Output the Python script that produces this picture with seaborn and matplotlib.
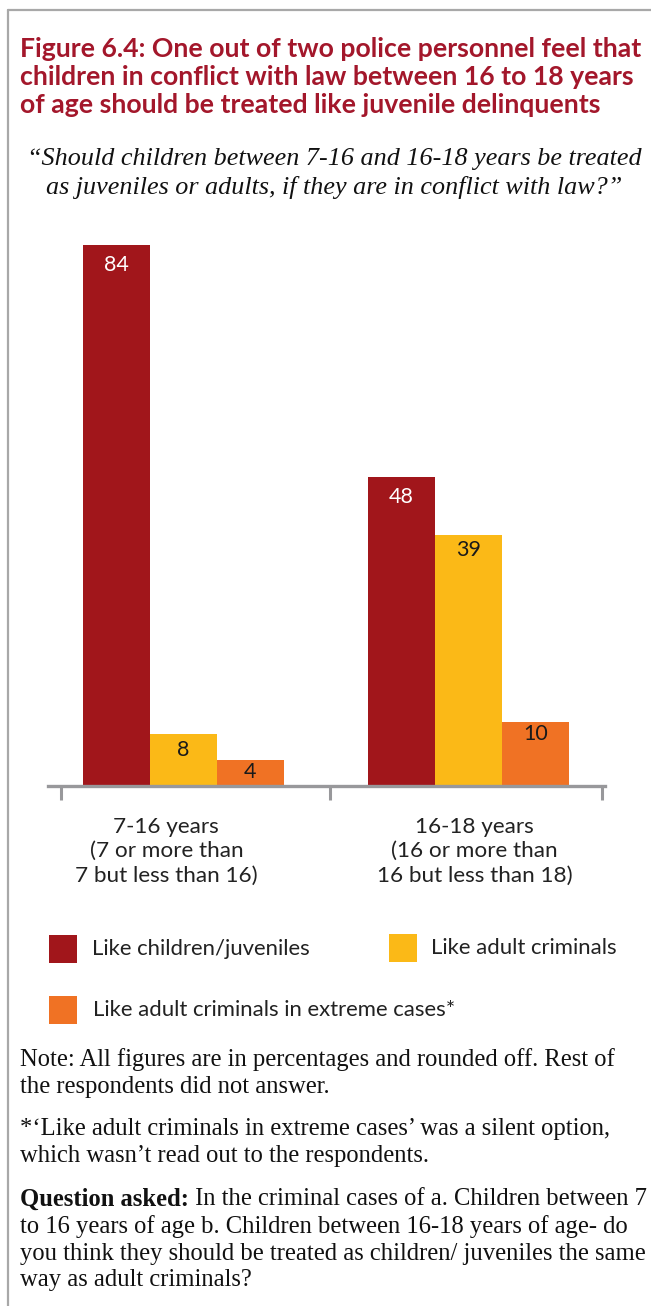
import matplotlib
matplotlib.use("Agg")
import matplotlib.pyplot as plt
import seaborn as sns
import pandas as pd
from matplotlib.patches import Rectangle
from matplotlib.lines import Line2D

# ---- data ----
groups = ["7-16 years\n(7 or more than\n7 but less than 16)",
          "16-18 years\n(16 or more than\n16 but less than 18)"]
responses = ["Like children/juveniles", "Like adult criminals",
             "Like adult criminals in extreme cases*"]
juvenile_vals = [84, 48]
adult_vals = [8, 39]
extreme_vals = [4, 10]
colors = ["#A1161B", "#FBB917", "#F07224"]

title = ("Figure 6.4: One out of two police personnel feel that\n"
         "children in conflict with law between 16 to 18 years\n"
         "of age should be treated like juvenile delinquents")
subtitle = ("\u201cShould children between 7-16 and 16-18 years be treated\n"
            "as juveniles or adults, if they are in conflict with law?\u201d")
note1 = ("Note: All figures are in percentages and rounded off. Rest of\n"
         "the respondents did not answer.")
note2 = ("*\u2018Like adult criminals in extreme cases\u2019 was a silent option,\n"
         "which wasn\u2019t read out to the respondents.")
q_bold = "Question asked:"
q_rest = [" In the criminal cases of a. Children between 7",
          "to 16 years of age b. Children between 16-18 years of age- do",
          "you think they should be treated as children/ juveniles the same",
          "way as adult criminals?"]

rows = []
for i, g in enumerate(groups):
    for r, vals in zip(responses, [juvenile_vals, adult_vals, extreme_vals]):
        rows.append({"group": g, "response": r, "value": vals[i]})
df = pd.DataFrame(rows)

sns.set_theme(style="white")
plt.rcParams["font.family"] = ["Lato", "DejaVu Sans"]

W, H = 651, 1306
fig = plt.figure(figsize=(W / 100, H / 100), dpi=100)
fig.patch.set_facecolor("white")

def fx(px):
    return px / W

def fy(py):
    return 1 - py / H

ax = fig.add_axes([fx(48), fy(786), fx(605) - fx(48), (786 - 206) / H])
sns.barplot(data=df, x="group", y="value", hue="response",
            palette=colors, width=0.705, linewidth=0, saturation=1,
            ax=ax, legend=False)
ax.set_ylim(0, 90)
ax.set_xlim(-0.475, 1.478)
for s in ["top", "right", "left"]:
    ax.spines[s].set_visible(False)
ax.spines["bottom"].set_color("#98989B")
ax.spines["bottom"].set_linewidth(2.4)
ax.set_yticks([])
ax.set_ylabel("")
ax.set_xlabel("")
# boundary ticks
ax.set_xticks([-0.43, 0.515, 1.467])
ax.set_xticklabels(["", "", ""])
ax.tick_params(axis="x", which="major", length=10, width=2.2,
               color="#98989B", bottom=True)
# category labels as minor ticks
ax.set_xticks([-0.06, 1.02], minor=True)
ax.set_xticklabels(groups, minor=True, fontsize=16.2, color="#222222",
                   linespacing=1.28)
ax.tick_params(axis="x", which="minor", length=0, pad=22)

pads = [-22, -18.5, -16]
txtcol = ["white", "#1a1a1a", "#1a1a1a"]
for cont, p, c in zip(ax.containers, pads, txtcol):
    ax.bar_label(cont, padding=p, color=c, fontsize=15.5)

# title
fig.text(fx(20), fy(37), title, ha="left", va="top", fontsize=19.2,
         fontweight="bold", color="#A3172B", linespacing=1.19)
fig.text(fx(334), fy(148), subtitle, ha="center", va="top", fontsize=18.8,
         style="italic", family=["Liberation Serif"], color="#111111",
         linespacing=1.31)

# legend (manual)
leg = [(49, 935, 0, 92), (389, 934, 1, 431), (49, 996, 2, 93)]
for x0, y0, k, tx in leg:
    fig.patches.append(Rectangle((fx(x0), fy(y0 + 28)), 28 / W, 28 / H,
                                 transform=fig.transFigure,
                                 facecolor=colors[k], edgecolor="none"))
    fig.text(fx(tx), fy(y0 + 14), responses[k], ha="left", va="center",
             fontsize=15.9, color="#222222")

serif = ["Liberation Serif"]
fs = 17.7
ls = 1.27
fig.text(fx(20), fy(1048), note1, ha="left", va="top", fontsize=fs,
         family=serif, color="#111111", linespacing=ls)
fig.text(fx(20), fy(1118), note2, ha="left", va="top", fontsize=fs,
         family=serif, color="#111111", linespacing=ls)

tb = fig.text(fx(20), fy(1188), q_bold, ha="left", va="top", fontsize=fs,
              family=serif, fontweight="bold", color="#111111")
fig.canvas.draw()
bb = tb.get_window_extent(renderer=fig.canvas.get_renderer())
fig.text(bb.x1 / W, fy(1188), q_rest[0], ha="left", va="top", fontsize=fs,
         family=serif, color="#111111")
fig.text(fx(20), fy(1215), "\n".join(q_rest[1:]), ha="left", va="top",
         fontsize=fs, family=serif, color="#111111", linespacing=ls)

# border
fig.add_artist(Line2D([fx(8), fx(8)], [fy(10), 0], color="#A8A8A8",
                      linewidth=1.6, transform=fig.transFigure))
fig.add_artist(Line2D([fx(8), 1], [fy(10), fy(10)], color="#A8A8A8",
                      linewidth=1.6, transform=fig.transFigure))

fig.savefig("out.png", dpi=100)
